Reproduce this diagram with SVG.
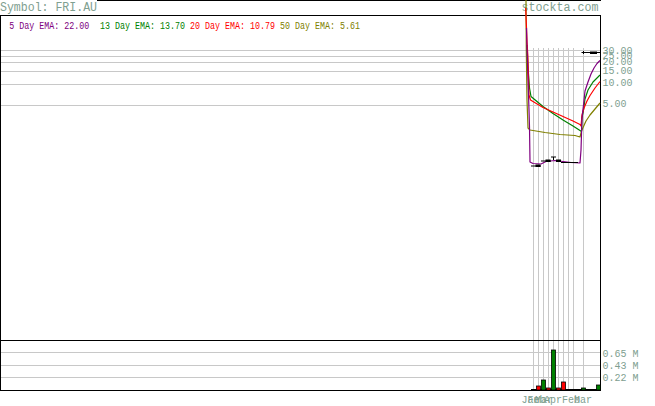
<svg xmlns="http://www.w3.org/2000/svg" width="655" height="406" viewBox="0 0 655 406">
<style>
text { font-family: "Liberation Mono", "DejaVu Sans Mono", monospace; }
.ax { fill: #80a090; font-size: 11px; }
.hd { fill: #80a090; font-size: 12.5px; }
.lg { font-size: 10px; }
.grid { stroke: #c8c8c8; stroke-width: 1; fill: none; }
.frame { stroke: #000; stroke-width: 1; fill: none; }
.ema { fill: none; stroke-width: 1.2; stroke-linejoin: round; }
.tick { stroke: #000; stroke-width: 1; }
.vb { stroke: #000; stroke-width: 0.8; }
</style>
<rect width="655" height="406" fill="#fff"/>

<g id="header">
  <text class="hd" x="0" y="11" textLength="97" lengthAdjust="spacingAndGlyphs">Symbol: FRI.AU</text>
  <text class="hd" x="521.5" y="11" textLength="77" lengthAdjust="spacingAndGlyphs">stockta.com</text>
  <line class="frame" x1="97" y1="0.5" x2="601" y2="0.5"/>
</g>

<g id="legend">
  <text class="lg" x="9.3" y="28.5" fill="#800080" textLength="80" lengthAdjust="spacingAndGlyphs">5 Day EMA: 22.00</text>
  <text class="lg" x="100" y="28.5" fill="#008000" textLength="85" lengthAdjust="spacingAndGlyphs">13 Day EMA: 13.70</text>
  <text class="lg" x="190" y="28.5" fill="#ff0000" textLength="85" lengthAdjust="spacingAndGlyphs">20 Day EMA: 10.79</text>
  <text class="lg" x="280" y="28.5" fill="#808000" textLength="80" lengthAdjust="spacingAndGlyphs">50 Day EMA: 5.61</text>
</g>

<g id="grid">
  <path class="grid" d="M1,50.5H600M1,56.5H600M1,62.5H600M1,71.5H600M1,84.5H600M1,105.5H600M1,352.5H600M1,365.5H600M1,377.5H600"/>
  <path class="grid" d="M533.5,48V390M538.5,48V390M543.5,48V390M548.5,48V390M553.5,48V390M558.5,48V390M563.5,48V390M568.5,48V390M573.5,48V390M583.5,48V390"/>
</g>

<g id="frame">
  <rect class="frame" x="0.5" y="15.5" width="600" height="375"/>
  <line class="frame" x1="0" y1="340.5" x2="601" y2="340.5"/>
</g>

<g id="price-axis">
  <text class="ax" x="602.5" y="53.5" textLength="30" lengthAdjust="spacingAndGlyphs">30.00</text>
  <text class="ax" x="602.5" y="58.5" textLength="30" lengthAdjust="spacingAndGlyphs">25.00</text>
  <text class="ax" x="602.5" y="65" textLength="30" lengthAdjust="spacingAndGlyphs">20.00</text>
  <text class="ax" x="602.5" y="73.5" textLength="30" lengthAdjust="spacingAndGlyphs">15.00</text>
  <text class="ax" x="602.5" y="86" textLength="30" lengthAdjust="spacingAndGlyphs">10.00</text>
  <text class="ax" x="602.5" y="107" textLength="24" lengthAdjust="spacingAndGlyphs">5.00</text>
</g>

<g id="volume-axis">
  <text class="ax" x="602.5" y="356.5" textLength="36" lengthAdjust="spacingAndGlyphs">0.65 M</text>
  <text class="ax" x="602.5" y="369.3" textLength="36" lengthAdjust="spacingAndGlyphs">0.43 M</text>
  <text class="ax" x="602.5" y="381" textLength="36" lengthAdjust="spacingAndGlyphs">0.22 M</text>
</g>

<g id="ema-lines">
  <path class="ema" stroke="#808000" d="M526,0 L526.3,50 L527,100 L528,128 L530,130 L545,132.5 L560,134.5 L575,135.5 L580,137 L581.5,131 L586,121 L590,115 L595,109 L600,103"/>
  <path class="ema" stroke="#008000" d="M527,45 L528,67 L529.5,88 L531,96.5 L543,106.5 L553,113.5 L563,120 L573,126 L580,130.5 L581.5,131.5 L582,118 L583.5,110 L585,99 L588,90 L593,82 L600,75"/>
  <path class="ema" stroke="#ff0000" d="M525.7,8 L526,17 L526.5,28 L527,42 L527.8,55 L529,95 L530.5,100 L543,107.5 L553,112 L563,116.5 L573,121 L580,124.5 L581,126 L582,115 L584,108 L587,101 L590,95.5 L595,88 L600,81.5"/>
  <path class="ema" stroke="#800080" d="M526.5,28 L527,48 L527.5,63 L528,80 L528.5,95 L529,110 L529.5,127 L530,162 L533,163.5 L541,164 L546,161.5 L555,160.5 L563,161.5 L571,162.5 L580,163 L581,150 L582,118 L583.5,105 L585,91 L588,82 L591,74 L594,68 L597,63.5 L600,60.5"/>
</g>

<g id="price-bars">
  <line class="tick" x1="531" y1="166" x2="541" y2="166"/>
  <rect x="535.5" y="164.5" width="5" height="2.5" fill="#000"/>
  <line class="tick" x1="541" y1="161" x2="551" y2="161"/>
  <rect x="545.5" y="159.5" width="5" height="2.5" fill="#000"/>
  <line class="tick" x1="551" y1="157" x2="556" y2="157"/>
  <line class="tick" x1="553.5" y1="157" x2="553.5" y2="160"/>
  <line class="tick" x1="556" y1="161" x2="561" y2="161"/>
  <rect x="556" y="159.5" width="5" height="2.5" fill="#000"/>
  <line class="tick" x1="561" y1="162.5" x2="578" y2="162.5"/>
  <line class="tick" x1="581.5" y1="52.5" x2="600" y2="52.5"/>
  <rect x="590" y="51.5" width="7" height="2.5" fill="#000"/>
  <line class="tick" x1="583.5" y1="51" x2="583.5" y2="54"/>
</g>

<g id="volume-bars">
  <line class="tick" x1="531" y1="389.5" x2="600" y2="389.5"/>
  <rect class="vb" x="536.5" y="386" width="4" height="4" fill="#ff0000"/>
  <rect class="vb" x="541.5" y="380" width="4" height="10" fill="#008000"/>
  <rect class="vb" x="546.5" y="388" width="4" height="2" fill="#ff0000"/>
  <rect class="vb" x="551.5" y="350" width="4" height="40" fill="#008000"/>
  <rect class="vb" x="556.5" y="388" width="4" height="2" fill="#ff0000"/>
  <rect class="vb" x="561.5" y="382" width="4" height="8" fill="#ff0000"/>
  <rect class="vb" x="581.5" y="388" width="4" height="2" fill="#008000"/>
  <rect class="vb" x="596.5" y="385" width="4" height="5" fill="#008000"/>
</g>

<g id="date-axis">
  <text class="ax" x="521.5" y="403" textLength="18" lengthAdjust="spacingAndGlyphs">Jan</text>
  <text class="ax" x="527.5" y="403" textLength="18" lengthAdjust="spacingAndGlyphs">Feb</text>
  <text class="ax" x="535" y="403" textLength="18" lengthAdjust="spacingAndGlyphs">Mar</text>
  <text class="ax" x="544" y="403" textLength="18" lengthAdjust="spacingAndGlyphs">Apr</text>
  <text class="ax" x="562" y="403" textLength="18" lengthAdjust="spacingAndGlyphs">Feb</text>
  <text class="ax" x="574" y="403" textLength="18" lengthAdjust="spacingAndGlyphs">Mar</text>
</g>
</svg>
